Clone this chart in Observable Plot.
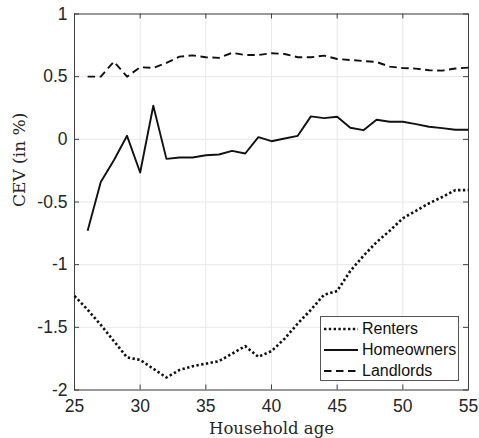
<!DOCTYPE html>
<html>
<head>
<meta charset="utf-8">
<script src="https://cdn.jsdelivr.net/npm/d3@7"></script>
<script src="https://cdn.jsdelivr.net/npm/@observablehq/plot@0.6"></script>
<style>
  body { margin: 0; background: #fff; }
  #chart { position: relative; width: 479px; height: 438px; }
  #legend {
    position: absolute; left: 320px; top: 316px; width: 137px; height: 63px;
    background: #fff; border: 1px solid #555;
    font-family: "Liberation Sans", Arial, sans-serif; font-size: 16px; color: #111;
  }
  #legend .row { position: absolute; left: 0; height: 20px; display: flex; align-items: center; }
  #legend svg { margin-left: 3px; margin-right: 4px; }
</style>
</head>
<body>
<div id="chart"></div>
<script>
// CEV by household age, three tenure groups
const renterAges = d3.range(25, 56);
const renterCEV = [-1.25, -1.36, -1.48, -1.61, -1.74, -1.76, -1.83, -1.90, -1.84, -1.81,
                   -1.79, -1.77, -1.71, -1.65, -1.735, -1.69, -1.59, -1.47, -1.36, -1.24,
                   -1.21, -1.05, -0.93, -0.82, -0.73, -0.63, -0.57, -0.51, -0.46, -0.405, -0.405];

const ownerAges = d3.range(26, 56);
const homeownerCEV = [-0.73, -0.34, -0.167, 0.028, -0.265, 0.268, -0.156, -0.145, -0.145, -0.127,
                      -0.121, -0.092, -0.113, 0.017, -0.015, 0.007, 0.028, 0.183, 0.169, 0.18,
                      0.092, 0.073, 0.156, 0.14, 0.14, 0.121, 0.10, 0.089, 0.076, 0.076];
const landlordCEV = [0.50, 0.50, 0.62, 0.50, 0.575, 0.57, 0.61, 0.66, 0.67, 0.655,
                     0.65, 0.69, 0.673, 0.673, 0.687, 0.681, 0.655, 0.655, 0.668, 0.641,
                     0.633, 0.625, 0.617, 0.58, 0.569, 0.564, 0.551, 0.548, 0.565, 0.572];

const xTicks = [25, 30, 35, 40, 45, 50, 55];
const yTicks = [-2, -1.5, -1, -0.5, 0, 0.5, 1];

const seriesNames = ["Renters", "Homeowners", "Landlords"];
const seriesDash = {Renters: "2.4,2.4", Homeowners: null, Landlords: "7.5,4.5"};
const seriesWidth = {Renters: 2.6, Homeowners: 1.9, Landlords: 1.9};

const rows = [
  ...renterAges.map((age, i) => ({series: "Renters", age, cev: renterCEV[i]})),
  ...ownerAges.map((age, i) => ({series: "Homeowners", age, cev: homeownerCEV[i]})),
  ...ownerAges.map((age, i) => ({series: "Landlords", age, cev: landlordCEV[i]}))
];

const W = 479, H = 438;
const mL = 74, mR = 11, mT = 13.5, mB = 48.5;
const plotW = W - mL - mR, plotH = H - mT - mB;
const tickLen = 5;
const axisColor = "#404040";
const gridColor = "#e8e8e8";

const lineMarks = seriesNames.map(name =>
  Plot.line(rows.filter(d => d.series === name), {
    x: "age", y: "cev", stroke: "#111",
    strokeWidth: seriesWidth[name],
    strokeDasharray: seriesDash[name],
    strokeLinecap: "butt", strokeLinejoin: "round"
  })
);

const chart = Plot.plot({
  width: W, height: H,
  marginLeft: mL, marginRight: mR, marginTop: mT, marginBottom: mB,
  style: {fontFamily: "'Liberation Sans', Arial, sans-serif", fontSize: "17.5px", color: "#262626", background: "#fff"},
  x: {domain: [25, 55]},
  y: {domain: [-2, 1]},
  marks: [
    Plot.gridX(xTicks, {stroke: gridColor, strokeOpacity: 1}),
    Plot.gridY(yTicks, {stroke: gridColor, strokeOpacity: 1}),
    // inward tick marks on all four sides
    Plot.ruleX(xTicks, {x: d => d, insetTop: plotH - tickLen, stroke: axisColor}),
    Plot.ruleX(xTicks, {x: d => d, insetBottom: plotH - tickLen, stroke: axisColor}),
    Plot.ruleY(yTicks, {y: d => d, insetRight: plotW - tickLen, stroke: axisColor}),
    Plot.ruleY(yTicks, {y: d => d, insetLeft: plotW - tickLen, stroke: axisColor}),
    Plot.frame({stroke: axisColor}),
    Plot.axisX(xTicks, {tickSize: 0, tickPadding: 10, label: null, tickFormat: d => String(d)}),
    Plot.axisY(yTicks, {tickSize: 0, tickPadding: 7, label: null, tickFormat: d => String(d)}),
    ...lineMarks,
    Plot.text(["Household age"], {
      frameAnchor: "bottom", lineAnchor: "bottom", dy: 44,
      fontFamily: "'DejaVu Serif', serif", fontSize: 16.5, fill: "#262626"
    }),
    Plot.text(["CEV (in %)"], {
      frameAnchor: "left", rotate: -90, dx: -55, dy: 5, lineAnchor: "middle",
      fontFamily: "'DejaVu Serif', serif", fontSize: 17, fill: "#262626"
    })
  ]
});

const container = document.getElementById("chart");
container.appendChild(chart);

// legend box in the lower right corner of the axes
const legend = document.createElement("div");
legend.id = "legend";
seriesNames.forEach((name, i) => {
  const row = document.createElement("div");
  row.className = "row";
  row.style.top = (2 + i * 21) + "px";
  const dash = seriesDash[name];
  row.innerHTML =
    `<svg width="34" height="20"><line x1="0" x2="34" y1="10" y2="10" stroke="#111" ` +
    `stroke-width="${seriesWidth[name]}" ${dash ? `stroke-dasharray="${dash}"` : ""}></line></svg>` +
    `<span>${name}</span>`;
  legend.appendChild(row);
});
container.appendChild(legend);
</script>
</body>
</html>
